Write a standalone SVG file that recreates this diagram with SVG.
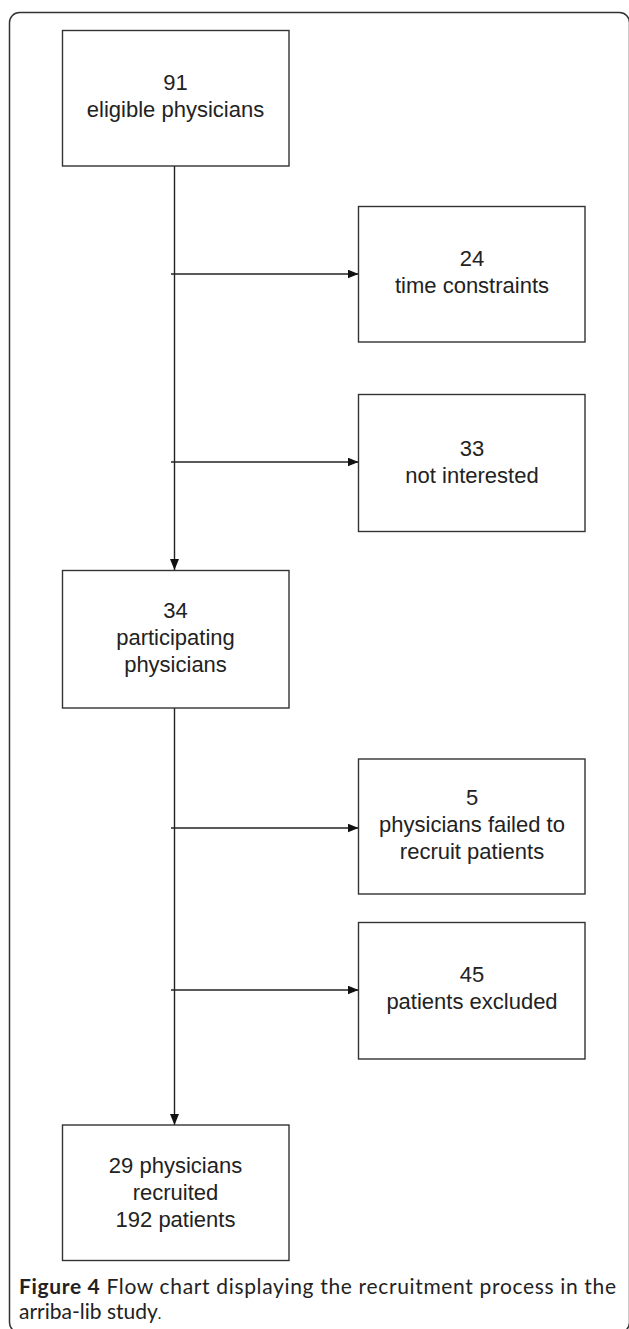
<svg xmlns="http://www.w3.org/2000/svg" width="629" height="1329" viewBox="0 0 629 1329">
<style>
.box{fill:#fff;stroke:#333;stroke-width:1.4}
.t{font-family:"Liberation Sans",Arial,sans-serif;font-size:22px;fill:#222;text-anchor:middle}
.c{stroke:#222;stroke-width:1.4;fill:none}
.cap{font-family:Lato,"Open Sans",sans-serif;font-size:21px;fill:#222}
</style>
<defs>
<marker id="ah" markerUnits="userSpaceOnUse" markerWidth="12" markerHeight="10" refX="11" refY="4.5" orient="auto">
<path d="M0,0 L11,4.5 L0,9 z" fill="#111"/>
</marker>
</defs>
<rect x="0" y="0" width="629" height="1329" fill="#fff"/>
<rect x="9.5" y="12.5" width="620" height="1320" rx="10" ry="10" fill="none" stroke="#333" stroke-width="1.5"/>
<g id="connectors">
<line class="c" x1="174.5" y1="166" x2="174.5" y2="570" marker-end="url(#ah)"/>
<line class="c" x1="174.5" y1="708" x2="174.5" y2="1125" marker-end="url(#ah)"/>
<line class="c" x1="171" y1="274" x2="358.5" y2="274" marker-end="url(#ah)"/>
<line class="c" x1="171" y1="462" x2="358.5" y2="462" marker-end="url(#ah)"/>
<line class="c" x1="171" y1="828" x2="358.5" y2="828" marker-end="url(#ah)"/>
<line class="c" x1="171" y1="990" x2="358.5" y2="990" marker-end="url(#ah)"/>
</g>
<g id="n1">
<rect class="box" x="62.5" y="30.5" width="226.5" height="135.5"/>
<text class="t" x="175.5" y="90">91</text>
<text class="t" x="175.5" y="117">eligible physicians</text>
</g>
<g id="n2">
<rect class="box" x="358.5" y="206.5" width="226.5" height="135.5"/>
<text class="t" x="472" y="266">24</text>
<text class="t" x="472" y="293">time constraints</text>
</g>
<g id="n3">
<rect class="box" x="358.5" y="394.5" width="226.5" height="137"/>
<text class="t" x="472" y="456">33</text>
<text class="t" x="472" y="483">not interested</text>
</g>
<g id="n4">
<rect class="box" x="62.5" y="570.5" width="226.5" height="137.5"/>
<text class="t" x="175.5" y="618">34</text>
<text class="t" x="175.5" y="645">participating</text>
<text class="t" x="175.5" y="672">physicians</text>
</g>
<g id="n5">
<rect class="box" x="358.5" y="759" width="226.5" height="135"/>
<text class="t" x="472" y="805">5</text>
<text class="t" x="472" y="832">physicians failed to</text>
<text class="t" x="472" y="859">recruit patients</text>
</g>
<g id="n6">
<rect class="box" x="358.5" y="922.5" width="226.5" height="136.5"/>
<text class="t" x="472" y="982">45</text>
<text class="t" x="472" y="1009">patients excluded</text>
</g>
<g id="n7">
<rect class="box" x="62.5" y="1125" width="226.5" height="135.5"/>
<text class="t" x="175.5" y="1173">29 physicians</text>
<text class="t" x="175.5" y="1200">recruited</text>
<text class="t" x="175.5" y="1227">192 patients</text>
</g>
<g id="caption">
<text class="cap" x="19" y="1294" textLength="597" lengthAdjust="spacing"><tspan font-weight="bold">Figure 4</tspan> Flow chart displaying the recruitment process in the</text>
<text class="cap" x="19" y="1319">arriba-lib study<tspan font-size="15">.</tspan></text>
</g>
</svg>
